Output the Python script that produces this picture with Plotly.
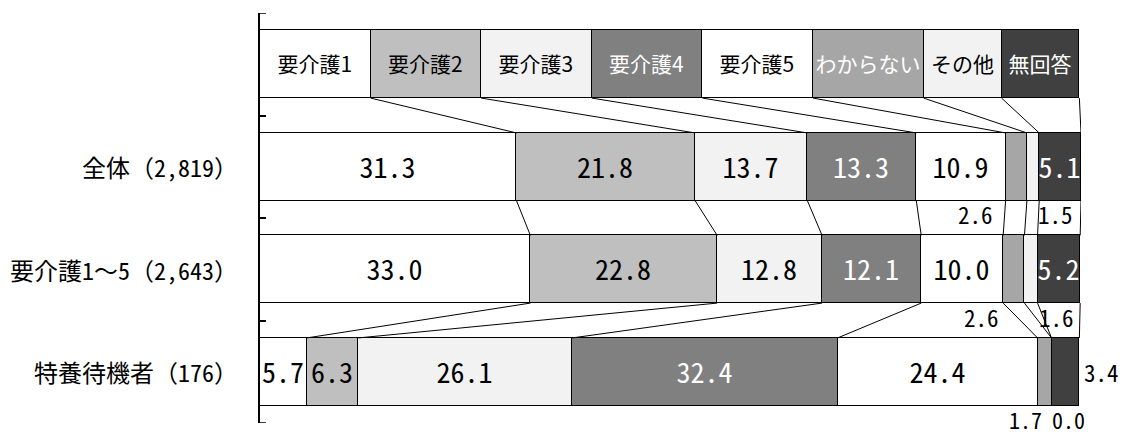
import numpy as np
import plotly.graph_objects as go

# ---- data ----
series = ["要介護1", "要介護2", "要介護3", "要介護4", "要介護5", "わからない", "その他", "無回答"]
groups = ["全体（2,819）", "要介護1～5（2,643）", "特養待機者（176）"]
v_all = [31.3, 21.8, 13.7, 13.3, 10.9, 2.6, 1.5, 5.1]
v_care = [33.0, 22.8, 12.8, 12.1, 10.0, 2.6, 1.6, 5.2]
v_wait = [5.7, 6.3, 26.1, 32.4, 24.4, 1.7, 0.0, 3.4]
# widths of the header (legend) boxes, in percent of the bar length
header_widths = [13.5, 13.5, 13.5, 13.5, 13.5, 13.5, 9.5, 9.5]

# ---- styles ----
colors = ["#FFFFFF", "#BFBFBF", "#F2F2F2", "#808080", "#FFFFFF", "#A6A6A6", "#F2F2F2", "#404040"]
text_colors = ["#000000", "#000000", "#000000", "#FFFFFF", "#000000", "#FFFFFF", "#000000", "#FFFFFF"]
SANS = "Noto Sans CJK JP, sans-serif"
MONO = "Noto Sans Mono CJK JP, Noto Sans CJK JP, monospace"
BAR_W = 0.66

data_rows = [v_all, v_care, v_wait]
all_rows = [header_widths] + data_rows
row_pos = [0, 1, 2, 3]

# labels drawn outside the bars: (data row index, series index, where, xshift px, yshift px, size)
outside = [
    (0, 5, "start", -30, 4, 23), (0, 6, "end", 16, 4, 23),
    (1, 5, "start", -22, 4, 23), (1, 6, "end", 19, 4, 23),
    (2, 5, "start", -12, 4, 22), (2, 6, "end", 17, 4, 22), (2, 7, "right", 22, 0, 23),
]
outside_keys = {(o[0], o[1]) for o in outside}

fig = go.Figure()
for i, name in enumerate(series):
    xs = [r[i] for r in all_rows]
    texts = [name] + [
        "" if (j, i) in outside_keys else f"{row[i]:.1f}" for j, row in enumerate(data_rows)
    ]
    fig.add_trace(go.Bar(
        y=row_pos, x=xs, orientation="h", width=BAR_W,
        marker=dict(color=colors[i], line=dict(color="#000000", width=1.2)),
        text=texts, textposition="inside", insidetextanchor="middle",
        textangle=0, constraintext="none",
        textfont=dict(family=[SANS, MONO, MONO, MONO], size=[21, 28, 28, 28],
                      color=text_colors[i]),
        hoverinfo="skip", showlegend=False,
    ))

# connector lines between consecutive rows
cums = [np.cumsum(r) for r in all_rows]
lx, ly = [], []
for a in range(3):
    for k in range(len(series)):
        lx += [cums[a][k], cums[a + 1][k], None]
        ly += [row_pos[a] + BAR_W / 2, row_pos[a + 1] - BAR_W / 2, None]
fig.add_trace(go.Scatter(x=lx, y=ly, mode="lines",
                         line=dict(color="#000000", width=1),
                         hoverinfo="skip", showlegend=False))

annotations = []
# category labels
for j, g in enumerate(groups):
    annotations.append(dict(
        x=0, xref="paper", y=row_pos[j + 1], yref="y", text=g, showarrow=False,
        xanchor="right", yanchor="middle", xshift=-20,
        font=dict(family=MONO, size=24, color="#000000"),
    ))
# outside value labels
for r, s, where, xs_, ys_, fs in outside:
    cum = cums[r + 1]
    start = cum[s] - data_rows[r][s]
    if where == "start":
        x, y = start, row_pos[r + 1] + 0.5
    elif where == "end":
        x, y = cum[s], row_pos[r + 1] + 0.5
    else:
        x, y = cum[-1], row_pos[r + 1]
    annotations.append(dict(
        x=x, y=y, xref="x", yref="y", text=f"{data_rows[r][s]:.1f}", showarrow=False,
        xanchor="center", yanchor="middle", xshift=xs_, yshift=ys_,
        font=dict(family=MONO, size=fs, color="#000000"),
    ))

# end ticks of the category axis (Plotly drops ticks at the range ends)
shapes = [
    dict(type="line", xref="x", yref="y", xsizemode="pixel", xanchor=0,
         x0=0, x1=6, y0=yv, y1=yv, line=dict(color="#000000", width=1.5))
    for yv in (-0.5, 3.5)
]

# the page body has an 8px margin, so the figure is sized to fit the window
fig.update_layout(
    width=1119, height=427,
    margin=dict(l=252, r=46, t=5, b=12),
    barmode="stack", bargap=0,
    plot_bgcolor="#FFFFFF", paper_bgcolor="#FFFFFF",
    xaxis=dict(range=[0, 100.2], visible=False, fixedrange=True),
    yaxis=dict(range=[3.5, -0.5], showgrid=False, zeroline=False,
               showline=True, linecolor="#000000", linewidth=1.5,
               ticks="inside", tickvals=[0.5, 1.5, 2.5],
               ticklen=6, tickwidth=1.5, tickcolor="#000000",
               showticklabels=False, fixedrange=True),
    annotations=annotations,
    shapes=shapes,
)

fig.write_html("out.html")
